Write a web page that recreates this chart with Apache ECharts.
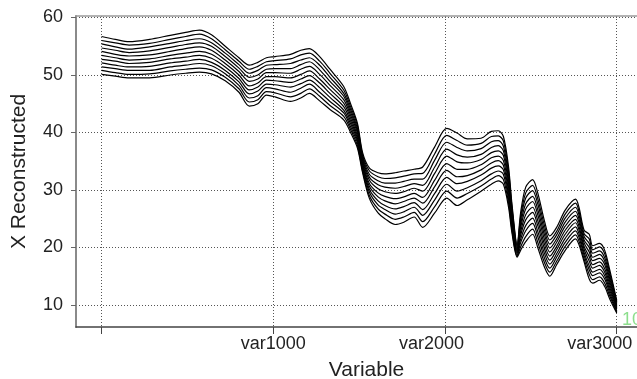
<!DOCTYPE html>
<html>
<head>
<meta charset="utf-8">
<script src="https://cdn.jsdelivr.net/npm/echarts@6/dist/echarts.min.js"></script>
<style>
  html, body { margin: 0; padding: 0; background: #fff; }
  #chart { width: 637px; height: 379px; }
</style>
</head>
<body>
<div id="chart"></div>
<script>
// variable index of each sampled point
const variables = [
  0, 80, 160, 280, 400, 490, 570, 640, 720, 800,
  860, 910, 960, 1010, 1100, 1160, 1210, 1270, 1330, 1410,
  1450, 1490, 1520, 1560, 1610, 1650, 1710, 1760, 1820, 1870,
  1940, 2010, 2070, 2130, 2210, 2270, 2310, 2340, 2370, 2390,
  2420, 2440, 2470, 2510, 2540, 2580, 2610, 2650, 2700,
  2760, 2780, 2810, 2840, 2860, 2900, 2930, 2960, 3000
];

// reconstructed spectra (top to bottom)
const s0 = [
  56.7, 56.2, 55.8, 56.2, 56.9, 57.4, 57.8, 57.0, 55.0, 53.0,
  51.7, 52.2, 53.0, 53.2, 53.6, 54.3, 54.6, 53.2, 51.0, 48.0,
  45.0, 41.6, 36.5, 33.8, 33.0, 32.8, 33.0, 33.3, 33.6, 34.0,
  37.5, 40.7, 39.9, 38.9, 39.0, 40.2, 40.3, 39.3, 34.0, 27.5,
  20.5, 26.0, 30.5, 31.8, 29.5, 24.5, 22.0, 23.5, 26.5,
  28.4, 27.0, 23.0, 22.3, 20.3, 20.7, 19.5, 16.0, 10.8
];
const s1 = [
  56.0, 55.6, 55.2, 55.5, 56.2, 56.7, 57.1, 56.3, 54.4, 52.4,
  51.0, 51.5, 52.3, 52.5, 52.8, 53.5, 53.8, 52.4, 50.3, 47.4,
  44.5, 41.2, 36.1, 33.3, 32.3, 32.0, 32.1, 32.4, 32.8, 32.9,
  36.3, 39.5, 38.6, 37.8, 38.1, 39.3, 39.4, 38.5, 33.3, 27.0,
  20.3, 25.3, 29.5, 30.8, 28.5, 23.7, 21.3, 22.8, 25.8,
  27.7, 26.3, 22.4, 21.5, 19.6, 20.1, 18.9, 15.5, 10.6
];
const s2 = [
  55.4, 54.9, 54.5, 54.9, 55.5, 56.0, 56.3, 55.6, 53.8, 51.8,
  50.3, 50.8, 51.7, 51.8, 52.0, 52.6, 53.0, 51.7, 49.6, 46.8,
  44.0, 40.7, 35.8, 32.7, 31.6, 31.2, 31.2, 31.5, 31.9, 31.9,
  35.2, 38.3, 37.4, 36.8, 37.2, 38.4, 38.6, 37.6, 32.6, 26.5,
  20.1, 24.7, 28.6, 29.9, 27.6, 22.9, 20.6, 22.2, 25.1,
  27.0, 25.7, 21.9, 20.7, 19.0, 19.4, 18.2, 15.0, 10.4
];
const s3 = [
  54.7, 54.3, 53.9, 54.2, 54.8, 55.3, 55.6, 55.0, 53.2, 51.2,
  49.6, 50.0, 51.0, 51.1, 51.1, 51.8, 52.3, 50.9, 48.9, 46.3,
  43.5, 40.3, 35.4, 32.2, 30.9, 30.5, 30.3, 30.6, 31.1, 30.8,
  34.0, 37.1, 36.1, 35.7, 36.2, 37.4, 37.7, 36.8, 31.9, 26.0,
  19.8, 24.0, 27.6, 28.9, 26.6, 22.1, 19.9, 21.5, 24.4,
  26.3, 25.0, 21.3, 20.0, 18.3, 18.8, 17.6, 14.5, 10.1
];
const s4 = [
  54.1, 53.6, 53.3, 53.5, 54.1, 54.6, 54.9, 54.3, 52.6, 50.6,
  48.9, 49.3, 50.4, 50.4, 50.3, 51.0, 51.5, 50.1, 48.2, 45.7,
  43.0, 39.9, 35.1, 31.7, 30.2, 29.7, 29.4, 29.7, 30.3, 29.8,
  32.9, 35.9, 34.9, 34.7, 35.3, 36.5, 36.8, 36.0, 31.2, 25.5,
  19.6, 23.4, 26.7, 28.0, 25.7, 21.3, 19.2, 20.9, 23.7,
  25.6, 24.4, 20.8, 19.2, 17.7, 18.1, 17.0, 14.0, 9.9
];
const s5 = [
  53.4, 53.0, 52.6, 52.8, 53.4, 53.8, 54.1, 53.6, 52.0, 50.0,
  48.1, 48.6, 49.7, 49.7, 49.5, 50.1, 50.7, 49.3, 47.5, 45.1,
  42.5, 39.4, 34.7, 31.1, 29.5, 28.9, 28.5, 28.8, 29.4, 28.7,
  31.7, 34.6, 33.6, 33.6, 34.4, 35.6, 35.9, 35.1, 30.5, 25.0,
  19.4, 22.7, 25.7, 27.0, 24.7, 20.5, 18.5, 20.2, 23.0,
  24.9, 23.7, 20.2, 18.4, 17.0, 17.5, 16.3, 13.5, 9.7
];
const s6 = [
  52.7, 52.4, 52.0, 52.2, 52.8, 53.1, 53.4, 52.9, 51.4, 49.4,
  47.4, 47.9, 49.1, 49.0, 48.7, 49.3, 49.9, 48.6, 46.8, 44.5,
  42.0, 39.0, 34.4, 30.6, 28.8, 28.1, 27.6, 28.0, 28.6, 27.7,
  30.6, 33.4, 32.3, 32.5, 33.5, 34.7, 35.1, 34.3, 29.8, 24.5,
  19.2, 22.1, 24.8, 26.1, 23.8, 19.7, 17.8, 19.6, 22.3,
  24.3, 23.1, 19.7, 17.6, 16.4, 16.9, 15.7, 13.0, 9.5
];
const s7 = [
  52.1, 51.7, 51.4, 51.5, 52.1, 52.4, 52.7, 52.2, 50.8, 48.8,
  46.7, 47.2, 48.4, 48.3, 47.9, 48.5, 49.1, 47.8, 46.1, 43.9,
  41.5, 38.6, 34.0, 30.1, 28.1, 27.3, 26.7, 27.1, 27.8, 26.6,
  29.4, 32.2, 31.1, 31.5, 32.6, 33.8, 34.2, 33.5, 29.1, 24.0,
  19.0, 21.4, 23.8, 25.1, 22.8, 18.9, 17.1, 18.9, 21.6,
  23.6, 22.4, 19.1, 16.8, 15.7, 16.2, 15.1, 12.5, 9.3
];
const s8 = [
  51.4, 51.1, 50.8, 50.8, 51.4, 51.7, 52.0, 51.6, 50.2, 48.2,
  46.0, 46.4, 47.8, 47.6, 47.0, 47.7, 48.4, 47.0, 45.4, 43.4,
  41.0, 38.2, 33.7, 29.6, 27.4, 26.6, 25.8, 26.2, 27.0, 25.6,
  28.3, 31.0, 29.8, 30.4, 31.6, 32.8, 33.3, 32.7, 28.4, 23.5,
  18.7, 20.8, 22.9, 24.2, 21.9, 18.1, 16.4, 18.3, 20.9,
  22.9, 21.8, 18.6, 16.1, 15.1, 15.6, 14.5, 12.0, 9.0
];
const s9 = [
  50.8, 50.4, 50.1, 50.2, 50.7, 51.0, 51.2, 50.9, 49.6, 47.6,
  45.3, 45.7, 47.1, 46.9, 46.2, 46.8, 47.6, 46.3, 44.7, 42.8,
  40.5, 37.7, 33.3, 29.0, 26.7, 25.8, 24.9, 25.3, 26.1, 24.5,
  27.1, 29.8, 28.6, 29.4, 30.7, 31.9, 32.5, 31.8, 27.7, 23.0,
  18.5, 20.1, 21.9, 23.2, 20.9, 17.3, 15.7, 17.6, 20.2,
  22.2, 21.1, 18.0, 15.3, 14.4, 14.9, 13.8, 11.5, 8.8
];
const s10 = [
  50.1, 49.8, 49.5, 49.5, 50.0, 50.3, 50.5, 50.2, 49.0, 47.0,
  44.6, 45.0, 46.5, 46.2, 45.4, 46.0, 46.8, 45.5, 44.0, 42.2,
  40.0, 37.3, 33.0, 28.5, 26.0, 25.0, 24.0, 24.4, 25.3, 23.5,
  26.0, 28.6, 27.3, 28.3, 29.8, 31.0, 31.6, 31.0, 27.0, 22.5,
  18.3, 19.5, 21.0, 22.3, 20.0, 16.5, 15.0, 17.0, 19.5,
  21.5, 20.5, 17.5, 14.5, 13.8, 14.3, 13.2, 11.0, 8.6
];
const spectra = [s0, s1, s2, s3, s4, s5, s6, s7, s8, s9, s10];

// axis ticks
const xTicks = [0, 1000, 2000, 3000];
const xLabels = [1000, 2000, 3000];
const yTicks = [10, 20, 30, 40, 50, 60];

// green sample label at the right edge
const noteX = [3030];
const noteY = [7.4];
const noteText = ['10'];

const chart = echarts.init(document.getElementById('chart'));
const font = "'Liberation Sans', Arial, Helvetica, sans-serif";
const xMin = -149;
const xMax = 3118;
const gridLine = { show: true, lineStyle: { color: '#555', type: [1, 2], width: 1 } };
const tickText = { fontFamily: font, fontSize: 18, color: '#222' };

const lineSeries = spectra.map((ys, k) => ({
  name: 'spec' + k,
  type: 'line',
  data: variables.map((v, i) => [v, ys[i]]),
  showSymbol: false,
  smooth: 0.3,
  silent: true,
  lineStyle: { color: '#000', width: 1.2 },
}));

const option = {
  animation: false,
  grid: { left: 76, right: 0, top: 16, bottom: 52, outerBoundsMode: 'none', containLabel: false },
  xAxis: [
    {
      type: 'value',
      min: xMin,
      max: xMax,
      name: 'Variable',
      nameLocation: 'middle',
      nameGap: 33,
      nameTextStyle: { fontFamily: font, fontSize: 21, color: '#222', padding: [0, 0, 0, 20] },
      axisLine: { onZero: false, lineStyle: { color: '#444', width: 1.5 } },
      axisTick: { customValues: xTicks, length: 7, lineStyle: { color: '#444' } },
      axisLabel: {
        customValues: xLabels,
        margin: 8,
        ...tickText,
        // the printed labels sit a little left of their ticks towards the right
        formatter: (v) => (v === 2000 ? '{b|var' + v + '}' : v === 3000 ? '{c|var' + v + '}' : 'var' + v),
        rich: {
          b: { ...tickText, padding: [0, 27, 0, 0] },
          c: { ...tickText, padding: [0, 34, 0, 0] },
        },
      },
      splitLine: gridLine,
    },
    {
      type: 'value',
      position: 'top',
      min: xMin,
      max: xMax,
      axisLine: { show: true, onZero: false, lineStyle: { color: '#9a9a9a', width: 1.5 } },
      axisTick: { show: false },
      axisLabel: { show: false },
      splitLine: { show: false },
    },
  ],
  yAxis: {
    type: 'value',
    min: 6.17,
    max: 60.26,
    name: 'X Reconstructed',
    nameLocation: 'middle',
    nameGap: 46,
    nameTextStyle: { fontFamily: font, fontSize: 21, color: '#222' },
    axisLine: { show: true, onZero: false, lineStyle: { color: '#8a8a8a', width: 2 } },
    axisTick: { show: true, customValues: yTicks, length: 5, lineStyle: { color: '#666' } },
    axisLabel: { customValues: yTicks, margin: 13, ...tickText },
    splitLine: gridLine,
  },
  series: [
    ...lineSeries,
    {
      type: 'scatter',
      data: noteX.map((x, i) => [x, noteY[i]]),
      symbolSize: 0,
      silent: true,
      label: {
        show: true,
        position: 'right',
        distance: 0,
        formatter: (p) => noteText[p.dataIndex],
        fontFamily: font,
        fontSize: 18,
        color: '#6fd66f',
      },
    },
  ],
};

chart.setOption(option);
</script>
</body>
</html>
